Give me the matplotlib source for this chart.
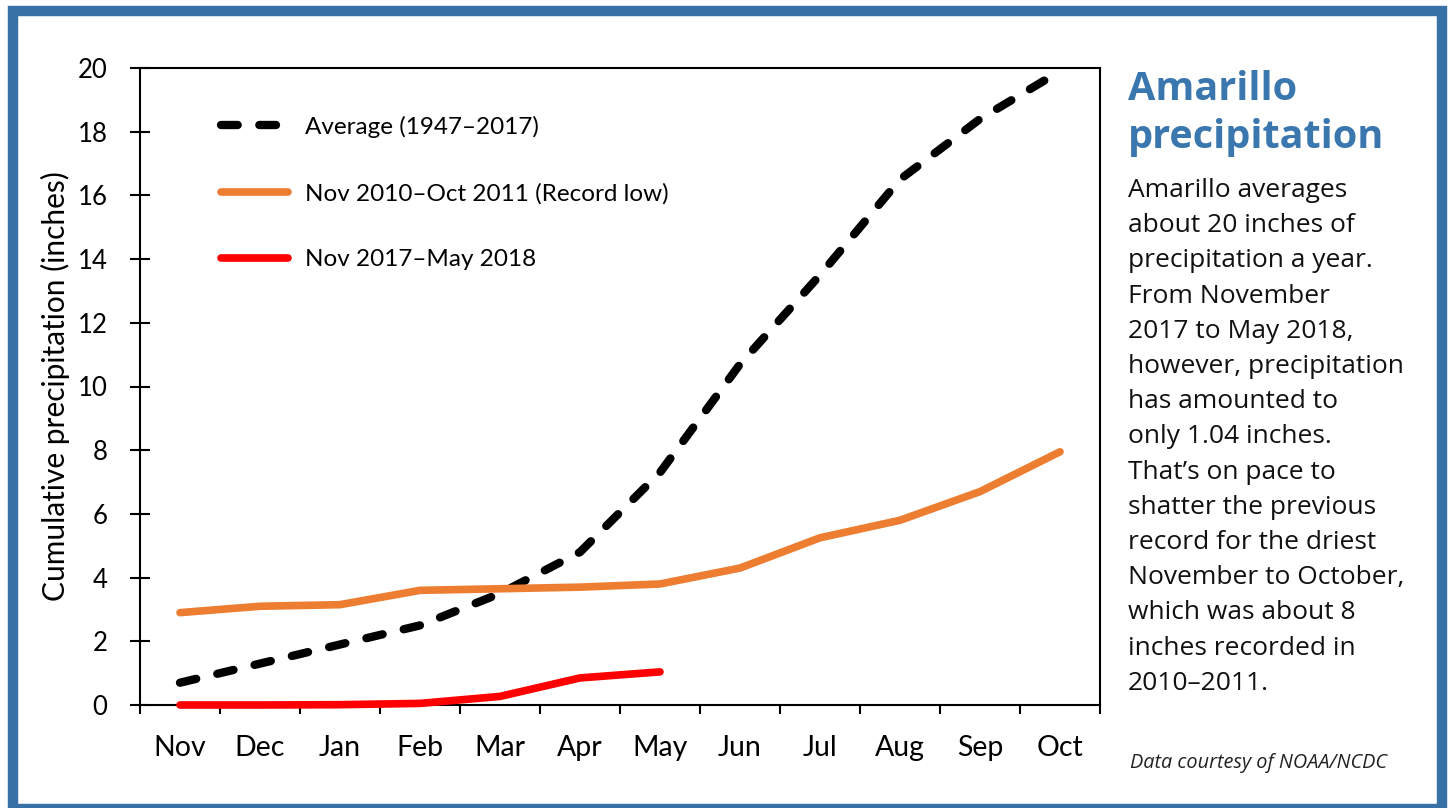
import matplotlib
matplotlib.use("Agg")
import matplotlib.pyplot as plt
from matplotlib.patches import Rectangle
import numpy as np

months = ["Nov", "Dec", "Jan", "Feb", "Mar", "Apr", "May", "Jun", "Jul", "Aug", "Sep", "Oct"]
average = [0.7, 1.3, 1.9, 2.5, 3.5, 4.8, 7.3, 10.7, 13.5, 16.5, 18.4, 19.9]
record_low = [2.9, 3.1, 3.15, 3.6, 3.65, 3.7, 3.8, 4.3, 5.25, 5.8, 6.7, 7.95]
current = [0.0, 0.0, 0.01, 0.05, 0.27, 0.85, 1.04]
yticks = [0, 2, 4, 6, 8, 10, 12, 14, 16, 18, 20]

labels = ["Average (1947\u20132017)", "Nov 2010\u2013Oct 2011 (Record low)", "Nov 2017\u2013May 2018"]
title_lines = ["Amarillo", "precipitation"]
body_lines = [
    "Amarillo averages",
    "about 20 inches of",
    "precipitation a year.",
    "From November",
    "2017 to May 2018,",
    "however, precipitation",
    "has amounted to",
    "only 1.04 inches.",
    "That\u2019s on pace to",
    "shatter the previous",
    "record for the driest",
    "November to October,",
    "which was about 8",
    "inches recorded in",
    "2010\u20132011.",
]
credit = "Data courtesy of NOAA/NCDC"

W, H = 1453, 808
fig = plt.figure(figsize=(W / 100, H / 100), dpi=100)
fig.patch.set_facecolor("white")

chart_font = ["Lato", "DejaVu Sans"]
side_font = ["Open Sans", "DejaVu Sans"]

ax = fig.add_axes([140 / W, 1 - 705 / H, 960 / W, 637 / H])
x = np.arange(len(months))

ax.plot(x, average, color="black", lw=6, linestyle=(0, (2.0, 2.6)),
        dash_capstyle="round", solid_capstyle="round", clip_on=False, zorder=3,
        label=labels[0])
ax.plot(x, record_low, color="#ED7D31", lw=5.5, solid_capstyle="round",
        solid_joinstyle="round", clip_on=False, zorder=3, label=labels[1])
ax.plot(np.arange(len(current)), current, color="#FF0000", lw=5.5,
        solid_capstyle="round", solid_joinstyle="round", clip_on=False,
        zorder=4, label=labels[2])

ax.set_xlim(-0.5, len(months) - 0.5)
ax.set_ylim(0, 20)
ax.set_yticks(yticks)
ax.set_yticklabels([str(v) for v in yticks], fontfamily=chart_font, fontsize=18.5)
ax.set_xticks(x)
ax.set_xticklabels(months, fontfamily=chart_font, fontsize=20.5)
ax.set_xticks(np.arange(-0.5, len(months), 1.0), minor=True)
ax.tick_params(axis="x", which="major", length=0, pad=21.5)
ax.tick_params(axis="x", which="minor", direction="out", length=6.5, width=1.5)
ax.tick_params(axis="y", direction="inout", length=15, width=1.5, pad=16)
for s in ax.spines.values():
    s.set_linewidth(1.5)
    s.set_color("black")

ax.set_ylabel("Cumulative precipitation (inches)", fontfamily=chart_font,
              fontsize=21.5, va="center")
ax.yaxis.set_label_coords(-0.0885, 0.5)

leg = ax.legend(loc="upper left", bbox_to_anchor=(0.0844, 0.925), frameon=False,
                prop={"family": chart_font, "size": 17.5}, handlelength=2.76,
                handletextpad=0.7, labelspacing=1.85, borderpad=0,
                borderaxespad=0)

# Side panel text
tx = 1128 / W
ys_title = [100, 148]
for line, yb in zip(title_lines, ys_title):
    fig.text(tx, 1 - yb / H, line, fontfamily=side_font, fontweight="bold",
             fontsize=28.5, color="#3A77AE", va="baseline", ha="left")
for i, line in enumerate(body_lines):
    yb = 197 + i * 35.2
    fig.text(tx, 1 - yb / H, line, fontfamily=side_font, fontsize=19,
             color="#111111", va="baseline", ha="left")
fig.text(1130 / W, 1 - 768 / H, credit, fontfamily=side_font, fontsize=14.3,
         style="italic", color="#222222", va="baseline", ha="left")

# Blue frame
frame = Rectangle((12.5 / W, -0.5 / H), (1442 - 12.5) / W, (797.5 + 0.5) / H,
                  transform=fig.transFigure, fill=False, edgecolor="#3771A5",
                  linewidth=7.5, zorder=0)
fig.patches.append(frame)

fig.savefig("out.png", dpi=100, facecolor="white")
